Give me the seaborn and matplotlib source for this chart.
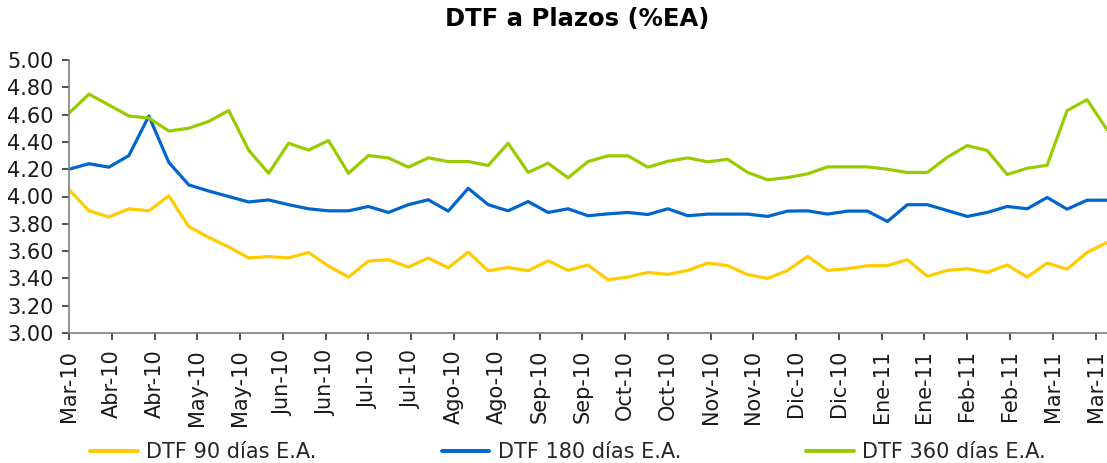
import numpy as np
import pandas as pd
import matplotlib
matplotlib.use("Agg")
import matplotlib.pyplot as plt
import seaborn as sns

# ---------------- data ----------------
start_date = "2010-03-26"
dtf_90 = [4.05, 3.895, 3.85, 3.91, 3.895, 4.005, 3.78, 3.70, 3.63, 3.55,
          3.56, 3.55, 3.59, 3.49, 3.41, 3.527, 3.537, 3.483, 3.549, 3.478,
          3.593, 3.456, 3.48, 3.456, 3.529, 3.459, 3.498, 3.39, 3.41, 3.444,
          3.429, 3.459, 3.512, 3.493, 3.427, 3.40, 3.459, 3.561, 3.459, 3.471,
          3.493, 3.493, 3.537, 3.415, 3.459, 3.471, 3.444, 3.498, 3.41, 3.512,
          3.468, 3.59, 3.663]
dtf_180 = [4.20, 4.24, 4.215, 4.30, 4.59, 4.25, 4.085, 4.04, 4.00, 3.96,
           3.975, 3.94, 3.91, 3.895, 3.895, 3.927, 3.883, 3.94, 3.976, 3.893,
           4.06, 3.94, 3.895, 3.963, 3.883, 3.91, 3.859, 3.873, 3.883, 3.868,
           3.91, 3.859, 3.871, 3.871, 3.871, 3.854, 3.893, 3.895, 3.871, 3.893,
           3.893, 3.817, 3.94, 3.94, 3.897, 3.854, 3.883, 3.927, 3.91, 3.993,
           3.907, 3.973, 3.973]
dtf_360 = [4.61, 4.75, 4.67, 4.59, 4.575, 4.48, 4.50, 4.55, 4.63, 4.34,
           4.17, 4.39, 4.34, 4.41, 4.17, 4.30, 4.283, 4.215, 4.283, 4.256,
           4.256, 4.227, 4.39, 4.176, 4.244, 4.137, 4.256, 4.298, 4.298, 4.215,
           4.258, 4.283, 4.254, 4.273, 4.176, 4.122, 4.139, 4.166, 4.217, 4.217,
           4.217, 4.20, 4.176, 4.176, 4.288, 4.373, 4.337, 4.161, 4.207, 4.229,
           4.629, 4.71, 4.49]
series_names = ["DTF 90 días E.A.", "DTF 180 días E.A.", "DTF 360 días E.A."]
series_colors = ["#FFCC00", "#0066CC", "#99CC00"]
tick_labels = ["Mar-10", "Abr-10", "Abr-10", "May-10", "May-10", "Jun-10",
               "Jun-10", "Jul-10", "Jul-10", "Ago-10", "Ago-10", "Sep-10",
               "Sep-10", "Oct-10", "Oct-10", "Nov-10", "Nov-10", "Dic-10",
               "Dic-10", "Ene-11", "Ene-11", "Feb-11", "Feb-11", "Mar-11",
               "Mar-11"]
y_ticks = [3.00, 3.20, 3.40, 3.60, 3.80, 4.00, 4.20, 4.40, 4.60, 4.80, 5.00]
title = "DTF a Plazos (%EA)"

# ---------------- build frame ----------------
dates = pd.date_range(start_date, periods=len(dtf_90), freq="7D")
t0 = pd.Timestamp(start_date)
days = (dates - t0).days.to_numpy()
frames = []
for name, vals in zip(series_names, [dtf_90, dtf_180, dtf_360]):
    frames.append(pd.DataFrame({"dia": days, "valor": vals, "serie": name}))
df = pd.concat(frames, ignore_index=True)

# ---------------- plot ----------------
sns.set_theme(style="white", font="DejaVu Sans")
plt.rcParams["font.family"] = ["DejaVu Sans"]
plt.rcParams["font.sans-serif"] = ["DejaVu Sans"]
FAM = "DejaVu Sans"

fig = plt.figure(figsize=(11.07, 4.63), dpi=100)
ax = fig.add_axes([69 / 1107, 1 - 333 / 463, 1 - 69 / 1107, (333 - 60) / 463])

sns.lineplot(data=df, x="dia", y="valor", hue="serie",
             palette=dict(zip(series_names, series_colors)),
             linewidth=2.3, ax=ax, legend=False)

ax.set_xlim(0, 364)
ax.set_ylim(3.0, 5.0)
ax.set_yticks(y_ticks)
ax.set_yticklabels([f"{v:.2f}" for v in y_ticks], fontsize=15,
                   color="#1a1a1a", family=FAM)
ax.set_xticks([15 * k for k in range(len(tick_labels))])
ax.set_xticklabels(tick_labels, rotation=90, fontsize=15,
                   color="#1a1a1a", family=FAM)
ax.set_xlabel("")
ax.set_ylabel("")
ax.grid(False)

for s in ["top", "right"]:
    ax.spines[s].set_visible(False)
for s in ["left", "bottom"]:
    ax.spines[s].set_color("#808080")
    ax.spines[s].set_linewidth(1.2)
ax.tick_params(axis="both", direction="out", length=5, width=1.2,
               color="#333333", bottom=True, left=True)
ax.tick_params(axis="y", pad=6)
ax.tick_params(axis="x", pad=7)

fig.text(577 / 1107, 1 - 19 / 463, title, ha="center", va="center",
         fontsize=17.5, fontweight="bold", color="#000000", family=FAM)

handles = [plt.Line2D([], [], color=c, linewidth=2.8) for c in series_colors]
fig.legend(handles, series_names, loc="center", ncol=3,
           bbox_to_anchor=(568 / 1107, 1 - 452 / 463), frameon=False,
           prop={"family": FAM, "size": 15}, handlelength=2.3,
           handletextpad=0.4, columnspacing=6.0, borderaxespad=0, borderpad=0)

fig.savefig("out.png", dpi=100)
